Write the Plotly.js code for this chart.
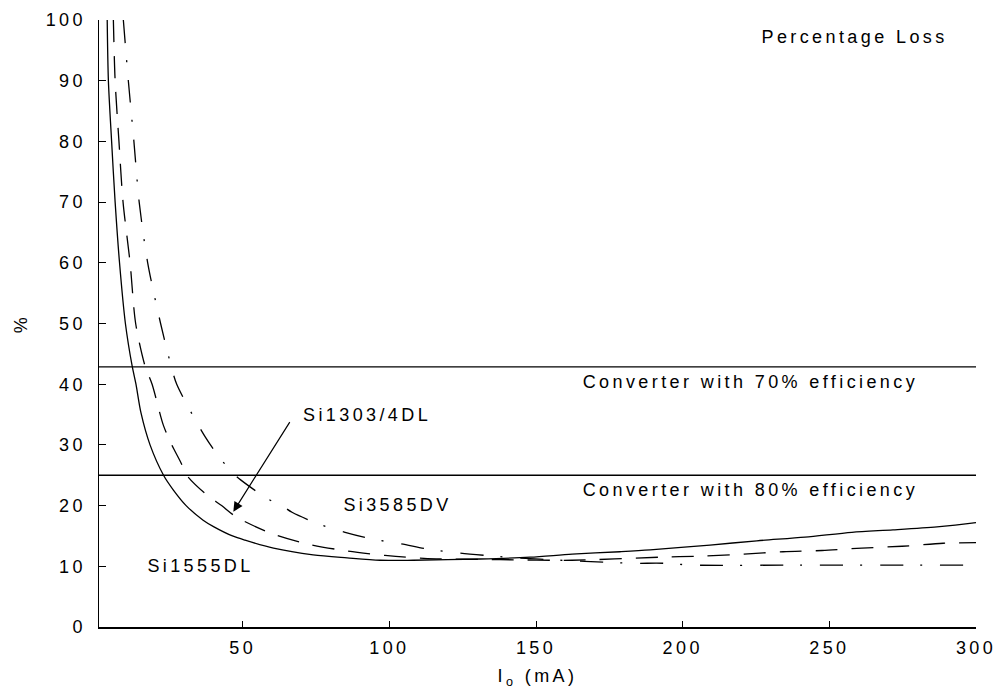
<!DOCTYPE html>
<html>
<head>
<meta charset="utf-8">
<script src="https://cdn.plot.ly/plotly-3.0.1.min.js"></script>
<style>
  html, body { margin: 0; padding: 0; background: #fff; }
  #chart { width: 1000px; height: 695px; }
  #chart text { letter-spacing: 3.4px; }
</style>
</head>
<body>
<div id="chart"></div>
<script>
// Output current Io (mA) and percentage loss (%)
const si1555dl_x = [3.8, 4.2, 5.3, 6.5, 8.0, 10.0, 12.3, 13.6, 15.3, 18.4, 23.0, 26.3, 30.7, 36.5, 40.2, 46.5, 50.8, 60.5, 74.0, 85.6, 96.8, 108.1, 130.9, 148.0, 162.3, 178.6, 188.9, 209.3, 225.3, 241.7, 257.7, 271.7, 286.7, 298.6, 300];
const si1555dl_y = [100, 90, 80, 70, 60, 50, 43, 40, 35.3, 30, 25, 22.6, 20, 17.6, 16.5, 15.0, 14.3, 13.0, 11.9, 11.4, 11.0, 11.0, 11.2, 11.5, 12.0, 12.4, 12.7, 13.5, 14.2, 14.8, 15.6, 16.0, 16.5, 17.1, 17.2];

const si1303_x = [5.9, 6.5, 7.8, 9.2, 11.6, 13.5, 16.7, 19.1, 22.9, 25.8, 28.9, 30.9, 37.4, 42.8, 47.9, 59.9, 71.9, 85.9, 98.5, 111.8, 137.7, 162.3, 192.3, 207.6, 220.9, 234.2, 247.5, 261.1, 274.8, 288.8, 300];
const si1303_y = [100, 90, 80, 70, 60, 50, 43, 40, 33.3, 30, 27.1, 25, 21.9, 20, 18.1, 15.4, 13.7, 12.5, 11.8, 11.3, 11.1, 11.0, 11.5, 11.7, 12.0, 12.4, 12.6, 13.0, 13.3, 13.8, 13.9];

const si3585dv_x = [9.3, 11.0, 12.9, 14.7, 17.6, 22.0, 25.6, 27.5, 37.1, 42.8, 47.4, 49.4, 58.2, 63.3, 66.8, 75.7, 84.9, 94.1, 104.0, 113.5, 123.7, 132.6, 140.1, 162.3, 172.8, 183.4, 193.3, 203.5, 240, 286, 300];
const si3585dv_y = [100, 90, 80, 70, 60, 50, 43, 40, 31.4, 27.5, 25, 24.2, 21.2, 20, 18.9, 17.0, 15.6, 14.5, 13.7, 12.8, 12.2, 11.8, 11.5, 10.9, 10.7, 10.5, 10.5, 10.2, 10.2, 10.2, 10.2];

// Converter loss levels (%)
const converterX = [1, 300];
const converter70 = [42.86, 42.86];
const converter80 = [25, 25];

const yTicks = [0, 10, 20, 30, 40, 50, 60, 70, 80, 90, 100];
const xTicks = [50, 100, 150, 200, 250, 300];

const FONT = 'Liberation Sans, Arial, Helvetica, sans-serif';
const black = '#000';

const traces = [
  {x: si1555dl_x, y: si1555dl_y, mode: 'lines', name: 'Si1555DL',
   line: {color: black, width: 1.3, shape: 'spline', smoothing: 0.8}},
  {x: si1303_x, y: si1303_y, mode: 'lines', name: 'Si1303/4DL',
   line: {color: black, width: 1.3, dash: '22px,14px', shape: 'spline', smoothing: 0.8}},
  {x: si3585dv_x, y: si3585dv_y, mode: 'lines', name: 'Si3585DV',
   line: {color: black, width: 1.3, dash: '23px,17px,2px,18px', shape: 'spline', smoothing: 0.8}},
  {x: converterX, y: converter70, mode: 'lines', name: '70%',
   line: {color: black, width: 1.3}},
  {x: converterX, y: converter80, mode: 'lines', name: '80%',
   line: {color: black, width: 1.3}}
];

const annFont = {family: FONT, size: 18, color: black};

const layout = {
  width: 1000, height: 695,
  paper_bgcolor: '#fff', plot_bgcolor: '#fff',
  showlegend: false,
  margin: {l: 99, r: 24, t: 20, b: 68, pad: 0},
  font: {family: FONT, size: 18, color: black},
  xaxis: {
    range: [1, 300], showgrid: false, zeroline: false,
    showline: true, linecolor: black, linewidth: 1.5,
    ticks: 'inside', ticklen: 6, tickwidth: 1, tickcolor: black,
    tickmode: 'array', tickvals: xTicks, ticktext: xTicks.map(String),
    tickfont: {family: FONT, size: 18, color: black},
    ticklabelstandoff: 4,
    title: {text: 'I<sub>o</sub> (mA)', font: {family: FONT, size: 18, color: black}, standoff: 12}
  },
  yaxis: {
    range: [0, 100], showgrid: false, zeroline: false,
    showline: true, linecolor: black, linewidth: 1.5,
    ticks: 'inside', ticklen: 7, tickwidth: 1, tickcolor: black,
    tickmode: 'array', tickvals: yTicks, ticktext: yTicks.map(String),
    tickfont: {family: FONT, size: 18, color: black},
    ticklabelstandoff: 8,
    title: {text: '%', font: {family: FONT, size: 18, color: black}, standoff: 23}
  },
  annotations: [
    {xref: 'paper', yref: 'paper', x: 0.862, y: 0.972, text: 'Percentage Loss',
     showarrow: false, font: annFont, xanchor: 'center', yanchor: 'middle'},
    {xref: 'x', yref: 'y', x: 223, y: 40.4, text: 'Converter with 70% efficiency',
     showarrow: false, font: annFont, xanchor: 'center', yanchor: 'middle'},
    {xref: 'x', yref: 'y', x: 223, y: 22.5, text: 'Converter with 80% efficiency',
     showarrow: false, font: annFont, xanchor: 'center', yanchor: 'middle'},
    {xref: 'x', yref: 'y', x: 92.3, y: 34.9, text: 'Si1303/4DL',
     showarrow: false, font: annFont, xanchor: 'center', yanchor: 'middle'},
    {xref: 'x', yref: 'y', x: 102.8, y: 20.1, text: 'Si3585DV',
     showarrow: false, font: annFont, xanchor: 'center', yanchor: 'middle'},
    {xref: 'x', yref: 'y', x: 35.6, y: 10.1, text: 'Si1555DL',
     showarrow: false, font: annFont, xanchor: 'center', yanchor: 'middle'},
    {xref: 'x', yref: 'y', x: 46.8, y: 19.0, text: ' ',
     showarrow: true, ax: 58, ay: -92, axref: 'pixel', ayref: 'pixel',
     arrowhead: 2, arrowsize: 1.6, arrowwidth: 1.2, arrowcolor: black,
     font: {size: 2}}
  ]
};

Plotly.newPlot('chart', traces, layout, {displayModeBar: false, staticPlot: true});
</script>
</body>
</html>
